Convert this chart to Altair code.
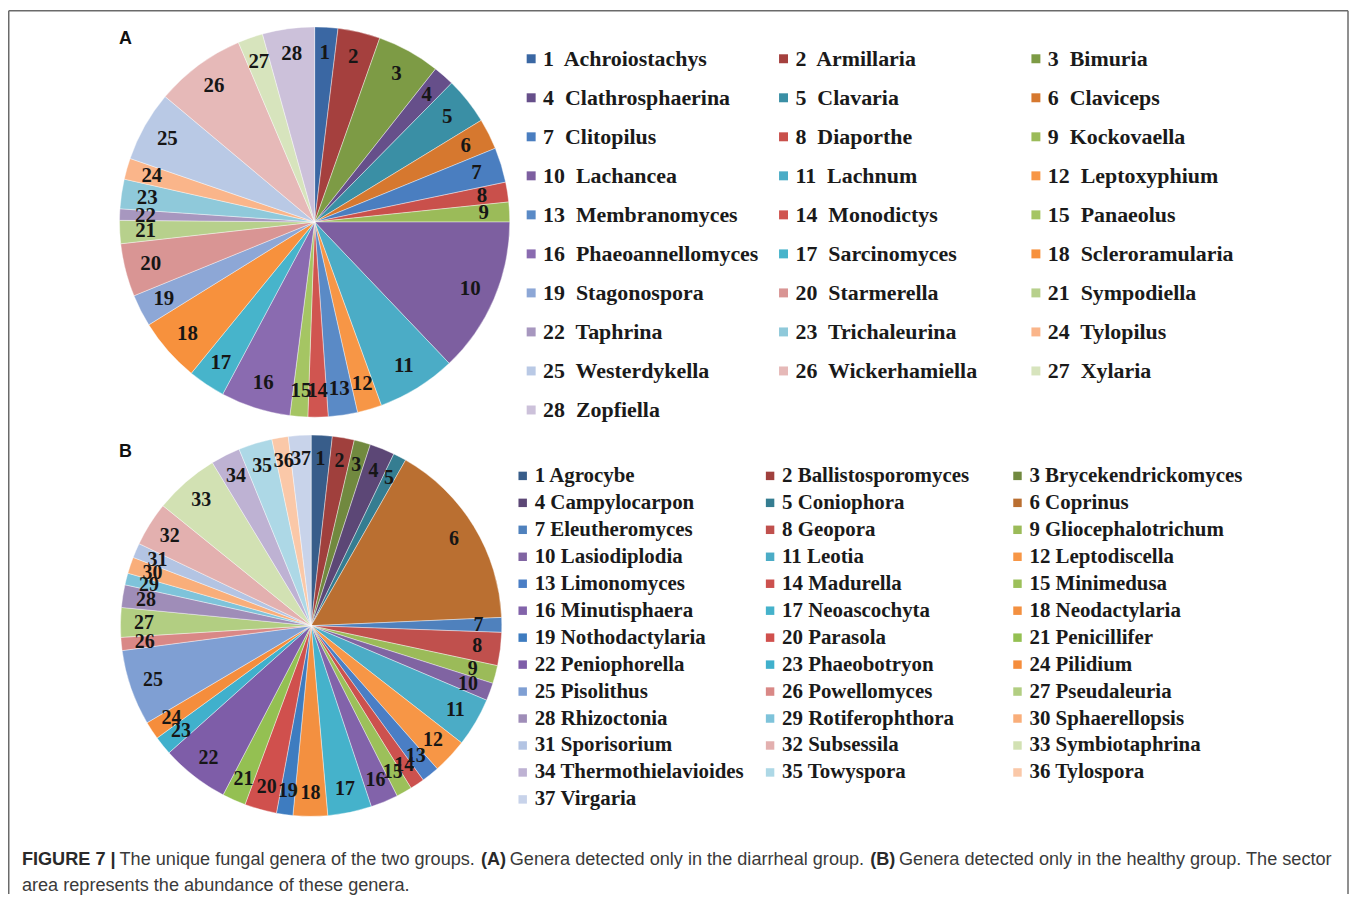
import altair as alt
import pandas as pd

# ---------------- data (A: diarrheal group) ----------------
genera_a = ["Achroiostachys", "Armillaria", "Bimuria", "Clathrosphaerina", "Clavaria",
            "Claviceps", "Clitopilus", "Diaporthe", "Kockovaella", "Lachancea",
            "Lachnum", "Leptoxyphium", "Membranomyces", "Monodictys", "Panaeolus",
            "Phaeoannellomyces", "Sarcinomyces", "Scleroramularia", "Stagonospora",
            "Starmerella", "Sympodiella", "Taphrina", "Trichaleurina", "Tylopilus",
            "Westerdykella", "Wickerhamiella", "Xylaria", "Zopfiella"]
abund_a = [6.9, 12.6, 18.8, 6.3, 14.0, 9.2, 10.4, 5.9, 5.9, 46.4,
           23.6, 7.3, 8.7, 6.0, 5.3, 20.8, 11.1, 19.0, 9.6, 15.8,
           6.9, 3.4, 8.8, 6.3, 21.0, 27.0, 7.5, 15.5]
colors_a = ["#3A67A3", "#A5403E", "#7D9B45", "#664F8A", "#3A8FA5", "#D6782F",
            "#4A7EC0", "#C9504B", "#9BBB59", "#7D5FA0", "#4BACC6", "#F79646",
            "#5A8AC6", "#D05550", "#A5C563", "#8A6BB0", "#47B4CB", "#F7913D",
            "#8DA7D6", "#D99594", "#B7D08C", "#A797BF", "#8FC9DA", "#FAB58A",
            "#B9C9E5", "#E6B9B8", "#D7E4BD", "#CCC1DA"]

# ---------------- data (B: healthy group) ----------------
genera_b = ["Agrocybe", "Ballistosporomyces", "Brycekendrickomyces", "Campylocarpon",
            "Coniophora", "Coprinus", "Eleutheromyces", "Geopora", "Gliocephalotrichum",
            "Lasiodiplodia", "Leotia", "Leptodiscella", "Limonomyces", "Madurella",
            "Minimedusa", "Minutisphaera", "Neoascochyta", "Neodactylaria",
            "Nothodactylaria", "Parasola", "Penicillifer", "Peniophorella",
            "Phaeobotryon", "Pilidium", "Pisolithus", "Powellomyces", "Pseudaleuria",
            "Rhizoctonia", "Rotiferophthora", "Sphaerellopsis", "Sporisorium",
            "Subsessila", "Symbiotaphrina", "Thermothielavioides", "Towyspora",
            "Tylospora", "Virgaria"]
abund_b = [6.4, 6.7, 5.0, 7.6, 4.0, 57.8, 4.5, 10.1, 5.5, 5.4,
           14.9, 10.7, 5.4, 4.4, 4.8, 8.4, 13.4, 10.5, 5.0, 9.8,
           7.2, 20.7, 5.7, 5.5, 23.1, 4.0, 9.0, 6.9, 3.6, 5.0,
           4.5, 13.5, 19.8, 9.0, 10.3, 5.0, 6.9]
colors_b = ["#385D8A", "#A0403D", "#71893F", "#5C4776", "#357D91", "#BA6F31",
            "#4F81BD", "#C0504D", "#9BBB59", "#8064A2", "#4BACC6", "#F79646",
            "#4A7EC5", "#CC514E", "#9CC05A", "#8263AA", "#45B2CB", "#F39040",
            "#3E7CC0", "#D0504D", "#94C052", "#7E5DA8", "#40B0CC", "#F58D3C",
            "#7F9FD3", "#D98886", "#B2CE82", "#9F8DB8", "#7EC3DA", "#F9AE7A",
            "#B3C4E3", "#E3B0AF", "#D2E1B3", "#BEB2D3", "#ADD8E6", "#FAC8A8",
            "#C8D3EA"]

caption_line1 = [
    ("FIGURE 7 |", "bold"),
    ("The unique fungal genera of the two groups.", "normal"),
    ("(A)", "bold"),
    ("Genera detected only in the diarrheal group.", "normal"),
    ("(B)", "bold"),
    ("Genera detected only in the healthy group. The sector", "normal"),
]
caption_x1 = [14, 112, 475, 504, 866, 895]
caption_line2 = "area represents the abundance of these genera."


def table(names, vals, cols):
    return pd.DataFrame({"idx": list(range(1, len(names) + 1)), "genus": names,
                         "value": vals, "color": cols})


dfa = table(genera_a, abund_a, colors_a)
dfb = table(genera_b, abund_b, colors_b)
one = pd.DataFrame({"a": [0]})

W, H = 1347, 888
SERIF = "Liberation Serif"
SANS = "Liberation Sans"


def pie(df, cx, cy, r, lr, fs):
    base = alt.Chart(df).encode(
        theta=alt.Theta("value:Q", stack=True),
        order=alt.Order("idx:Q", sort="ascending"),
    )
    arcs = base.mark_arc(radius=r, stroke="#ffffff", strokeWidth=0.4).encode(
        x=alt.value(cx), y=alt.value(cy),
        color=alt.Color("color:N", scale=None),
    )
    labels = base.mark_text(radius=lr, font=SERIF, fontWeight="bold", fontSize=fs,
                            color="#161616").encode(
        x=alt.value(cx), y=alt.value(cy), text=alt.Text("idx:Q"),
    )
    return alt.layer(arcs, labels)


def legend(df, x0, dx, y0, dy, fs, sq, gap, sep):
    base = alt.Chart(df).transform_calculate(
        col="(datum.idx - 1) % 3",
        row="floor((datum.idx - 1) / 3)",
    ).transform_calculate(
        px=f"{x0} + datum.col * {dx}",
        py=f"{y0} + datum.row * {dy}",
        label=f"datum.idx + '{sep}' + datum.genus",
    )
    squares = base.mark_square(size=sq, opacity=1).encode(
        x=alt.X("px:Q", scale=None, axis=None),
        y=alt.Y("py:Q", scale=None, axis=None),
        color=alt.Color("color:N", scale=None),
    )
    texts = base.mark_text(align="left", baseline="middle", dx=gap, font=SERIF,
                           fontWeight="bold", fontSize=fs, color="#1a1a1a").encode(
        x=alt.X("px:Q", scale=None, axis=None),
        y=alt.Y("py:Q", scale=None, axis=None),
        text="label:N",
    )
    return squares + texts


layers = []
# frame
frame_col = "#6a6a6a"
layers.append(alt.Chart(one).mark_rule(color=frame_col, strokeWidth=1.5).encode(
    x=alt.value(0.75), x2=alt.value(1346), y=alt.value(0.75)))
layers.append(alt.Chart(one).mark_rule(color=frame_col, strokeWidth=1.5).encode(
    x=alt.value(0.75), y=alt.value(0.75), y2=alt.value(H)))
layers.append(alt.Chart(one).mark_rule(color=frame_col, strokeWidth=1.5).encode(
    x=alt.value(1346), y=alt.value(0.75), y2=alt.value(H)))

layers.append(pie(dfa, 308, 213, 196, 170, 21))
layers.append(pie(dfb, 304.5, 618.5, 191.5, 168, 20))
layers.append(legend(dfa, 525.5, 253.5, 49, 39.2, 22, 81, 12, "\u00a0 "))
layers.append(legend(dfb, 517, 248.5, 468, 27.08, 21, 72, 12, " "))

# panel letters
for letter, yy in (("A", 29), ("B", 444)):
    layers.append(alt.Chart(one).mark_text(font=SANS, fontWeight="bold", fontSize=18,
                                           color="#111111", align="center",
                                           baseline="middle").encode(
        x=alt.value(118), y=alt.value(yy), text=alt.value(letter)))

# caption
for (txt, wt), xx in zip(caption_line1, caption_x1):
    layers.append(alt.Chart(one).mark_text(font=SANS, fontWeight=wt, fontSize=18.2,
                                           color="#2a2a2a" if wt == "bold" else "#3a3a3a",
                                           align="left", baseline="middle").encode(
        x=alt.value(xx), y=alt.value(854), text=alt.value(txt)))
layers.append(alt.Chart(one).mark_text(font=SANS, fontSize=18.2, color="#3a3a3a",
                                       align="left", baseline="middle").encode(
    x=alt.value(14), y=alt.value(880), text=alt.value(caption_line2)))

chart = alt.layer(*layers).resolve_scale(theta="independent").properties(
    width=W, height=H, padding=0, autosize=alt.AutoSizeParams(type="none"),
    background="#ffffff",
).configure_view(strokeWidth=0)

chart.save("out.html", embed_options={"renderer": "svg", "actions": False})
